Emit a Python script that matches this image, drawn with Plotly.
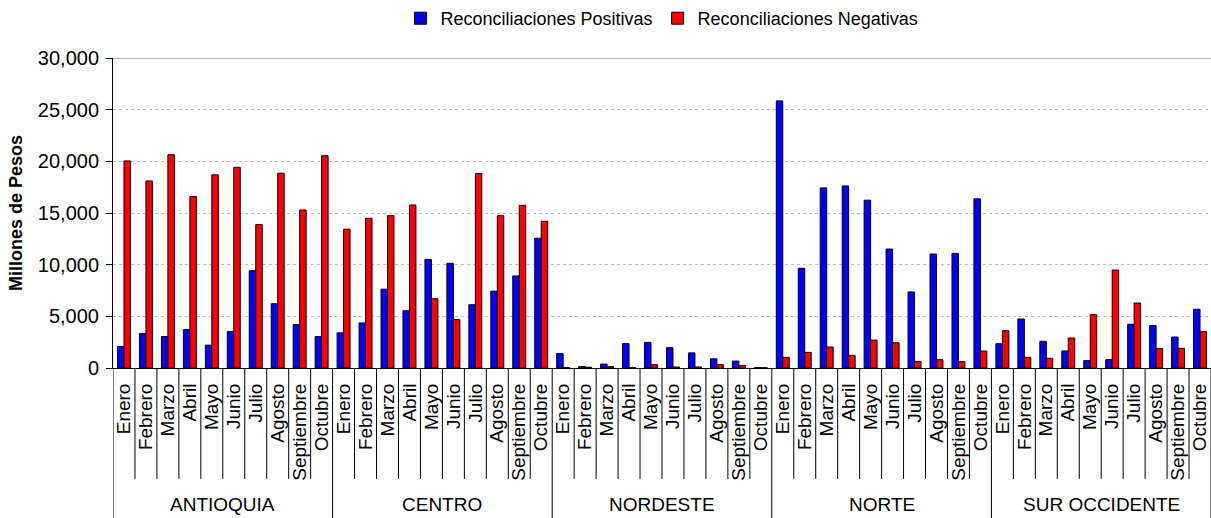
import plotly.graph_objects as go

# Regions and months shown on the two-level category axis
regiones = ["ANTIOQUIA", "CENTRO", "NORDESTE", "NORTE", "SUR OCCIDENTE"]
meses = ["Enero", "Febrero", "Marzo", "Abril", "Mayo", "Junio",
         "Julio", "Agosto", "Septiembre", "Octubre"]

# Reconciliaciones positivas (millones de pesos), one list per region
pos_antioquia = [2080, 3330, 3040, 3720, 2210, 3530, 9420, 6220, 4200, 3040]
pos_centro = [3400, 4360, 7630, 5540, 10510, 10130, 6120, 7440, 8910, 12560]
pos_nordeste = [1400, 130, 380, 2360, 2480, 1970, 1460, 890, 670, 30]
pos_norte = [25850, 9650, 17430, 17620, 16240, 11510, 7360, 11030, 11090, 16370]
pos_sur_occidente = [2350, 4740, 2580, 1650, 710, 810, 4230, 4100, 3000, 5680]

# Reconciliaciones negativas (millones de pesos), one list per region
neg_antioquia = [20040, 18100, 20640, 16600, 18690, 19420, 13880, 18850, 15290, 20540]
neg_centro = [13430, 14490, 14740, 15770, 6700, 4680, 18810, 14740, 15740, 14200]
neg_nordeste = [50, 80, 130, 50, 320, 100, 100, 320, 250, 20]
neg_norte = [1030, 1510, 2030, 1220, 2700, 2440, 640, 800, 610, 1640]
neg_sur_occidente = [3610, 1030, 940, 2900, 5160, 9480, 6290, 1900, 1900, 3520]

# Y-axis ticks
y_ticks = [0, 5000, 10000, 15000, 20000, 25000, 30000]

positivas = pos_antioquia + pos_centro + pos_nordeste + pos_norte + pos_sur_occidente
negativas = neg_antioquia + neg_centro + neg_nordeste + neg_norte + neg_sur_occidente
etiquetas = meses * len(regiones)
n_mes = len(meses)
idx = list(range(len(etiquetas)))

FONT = "Liberation Sans, Arial, sans-serif"

fig = go.Figure()
fig.add_trace(go.Bar(
    x=idx, y=positivas, name="Reconciliaciones Positivas",
    marker=dict(color="#0000FF", line=dict(color="#000000", width=1)),
))
fig.add_trace(go.Bar(
    x=idx, y=negativas, name="Reconciliaciones Negativas",
    marker=dict(color="#FF0000", line=dict(color="#000000", width=1)),
))

# Plot-area geometry in pixels, used to place the lower category level
TOP, BOTTOM_MARGIN, HEIGHT = 55, 150, 518
plot_h = HEIGHT - TOP - BOTTOM_MARGIN


def py(px):
    """Convert a pixel row (from top of page) to paper y."""
    return (HEIGHT - BOTTOM_MARGIN - px) / plot_h


shapes = []
# month separators below the axis
for k in range(len(etiquetas) + 1):
    if k % n_mes == 0:
        continue
    shapes.append(dict(type="line", xref="x", yref="paper",
                       x0=k - 0.5, x1=k - 0.5, y0=0, y1=py(480),
                       line=dict(color="#000000", width=1)))
# region separators reaching the bottom of the page
for r in range(len(regiones) + 1):
    xk = r * n_mes - 0.5
    shapes.append(dict(type="line", xref="x", yref="paper",
                       x0=xk, x1=xk, y0=0, y1=py(520),
                       line=dict(color="#000000", width=1)))
# solid frame line at the top of the value range
shapes.append(dict(type="line", xref="paper", yref="y",
                   x0=0, x1=1, y0=y_ticks[-1], y1=y_ticks[-1],
                   line=dict(color="#999999", width=1.5)))

annotations = []
for r, reg in enumerate(regiones):
    annotations.append(dict(
        text=reg, xref="x", yref="paper",
        x=r * n_mes + (n_mes - 1) / 2, y=py(506),
        showarrow=False, xanchor="center", yanchor="middle",
        font=dict(family=FONT, size=19, color="#000000"),
    ))

fig.update_layout(
    width=1211, height=HEIGHT,
    margin=dict(l=113, r=0, t=TOP, b=BOTTOM_MARGIN),
    paper_bgcolor="#FFFFFF", plot_bgcolor="#FFFFFF",
    barmode="group", bargap=0.41, bargroupgap=0,
    font=dict(family=FONT, color="#000000"),
    legend=dict(orientation="h", x=0.5, xanchor="center",
                y=py(15), yanchor="middle",
                font=dict(family=FONT, size=18), itemwidth=30,
                traceorder="normal"),
    shapes=shapes, annotations=annotations,
    xaxis=dict(
        range=[-0.5, len(etiquetas) - 0.5],
        tickmode="array", tickvals=idx, ticktext=etiquetas,
        tickangle=-90, ticks="", showgrid=False,
        showline=True, linecolor="#000000", linewidth=1,
        tickfont=dict(family=FONT, size=19), ticklabelstandoff=7,
        zeroline=False,
    ),
    yaxis=dict(
        range=[0, y_ticks[-1]], tickmode="array", tickvals=y_ticks,
        tickformat=",", ticks="outside", ticklen=6, tickcolor="#000000",
        showline=True, linecolor="#000000", linewidth=1,
        showgrid=True, gridcolor="#BBBBBB", griddash="dot", gridwidth=1,
        zeroline=False, ticklabelstandoff=3,
        tickfont=dict(family=FONT, size=20),
        title=dict(text="<b>Millones de Pesos</b>", standoff=10,
                   font=dict(family=FONT, size=18)),
    ),
)

fig.write_html("out.html")
